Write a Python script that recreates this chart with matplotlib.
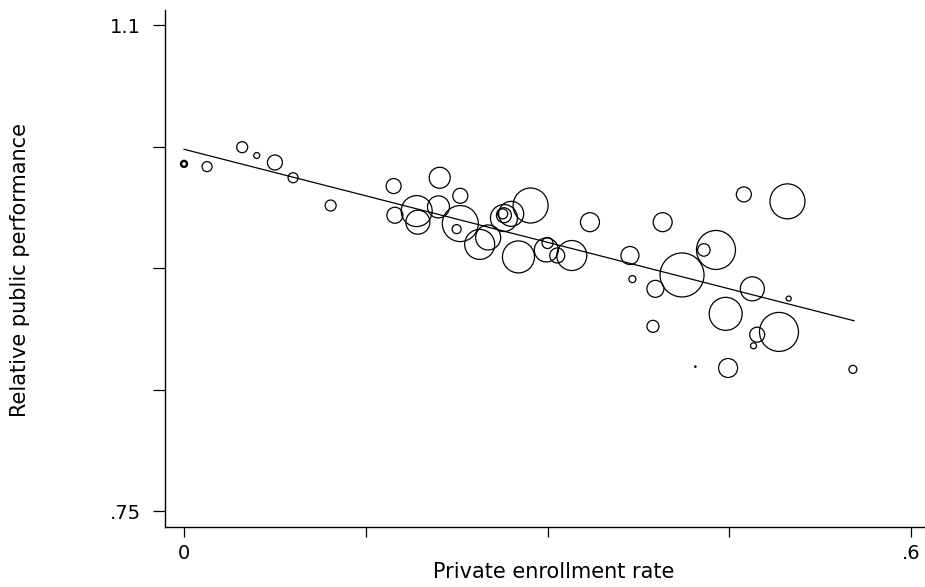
import matplotlib
matplotlib.use("Agg")
import matplotlib.pyplot as plt
import numpy as np

plt.rcParams['font.family'] = ['DejaVu Sans']

# Data
private_rate = [0.000, 0.019, 0.048, 0.060, 0.075, 0.090, 0.121, 0.173, 0.174, 0.211,
                0.192, 0.193, 0.210, 0.228, 0.228, 0.225, 0.244, 0.251, 0.264, 0.264,
                0.270, 0.263, 0.286, 0.276, 0.299, 0.300, 0.308, 0.320, 0.335, 0.395,
                0.462, 0.498, 0.368, 0.370, 0.389, 0.411, 0.429, 0.439, 0.469, 0.499,
                0.447, 0.387, 0.473, 0.470, 0.491, 0.449, 0.552, 0.422]
rel_perf = [1.000, 0.998, 1.012, 1.006, 1.001, 0.990, 0.970, 0.984, 0.963, 0.990,
            0.966, 0.958, 0.969, 0.977, 0.957, 0.953, 0.942, 0.947, 0.961, 0.963,
            0.964, 0.964, 0.970, 0.933, 0.938, 0.943, 0.934, 0.934, 0.958, 0.958,
            0.978, 0.973, 0.934, 0.917, 0.910, 0.920, 0.938, 0.938, 0.910, 0.903,
            0.892, 0.883, 0.877, 0.869, 0.879, 0.853, 0.852, 0.854]
weight = [0.36, 1.00, 1.21, 0.36, 2.25, 1.00, 1.21, 2.25, 2.56, 4.41,
          9.61, 5.76, 4.84, 2.25, 12.96, 0.81, 9.00, 6.25, 7.29, 2.25,
          6.25, 1.00, 12.25, 10.24, 5.76, 1.21, 2.25, 9.00, 3.61, 3.61,
          2.25, 12.25, 3.24, 0.49, 2.89, 19.36, 1.56, 15.21, 5.76, 0.25,
          10.89, 1.44, 2.25, 0.36, 15.21, 3.61, 0.64, 0.02]

fit_x = [0.0, 0.553]
fit_y = [1.0105, 0.887]

x_ticks = [0, 0.15, 0.3, 0.45, 0.6]
x_ticklabels = ['0', '', '', '', '.6']
y_ticks = [0.75, 0.8375, 0.925, 1.0125, 1.1]
y_ticklabels = ['.75', '', '', '', '1.1']

fig = plt.figure(figsize=(9.25, 5.87), dpi=100)
ax = fig.add_axes([0.17838, 0.10221, 0.82162, 0.88075])

sizes = np.array(weight) * 51.84
lws = [1.7] + [0.9] * (len(weight) - 1)
ax.scatter(private_rate, rel_perf, s=sizes, facecolors='none', edgecolors='black',
           linewidths=lws, zorder=3)
ax.plot(fit_x, fit_y, color='black', linewidth=0.9, zorder=2)

ax.set_xlim(-0.0157, 0.6115)
ax.set_ylim(0.7385, 1.1108)

ax.set_xticks(x_ticks)
ax.set_xticklabels(x_ticklabels)
ax.set_yticks(y_ticks)
ax.set_yticklabels(y_ticklabels)
ax.tick_params(axis='x', length=7.5, width=0.9, pad=5, labelsize=14)
ax.tick_params(axis='y', length=8.5, width=0.9, pad=9, labelsize=14)

for side in ['top', 'right']:
    ax.spines[side].set_visible(False)
for side in ['left', 'bottom']:
    ax.spines[side].set_linewidth(1.0)

ax.set_xlabel('Private enrollment rate', fontsize=15)
ax.xaxis.set_label_coords(0.512, -0.068)
ax.set_ylabel('Relative public performance', fontsize=15)
ax.yaxis.set_label_coords(-0.178, 0.498)

fig.savefig('out.png', dpi=100)
